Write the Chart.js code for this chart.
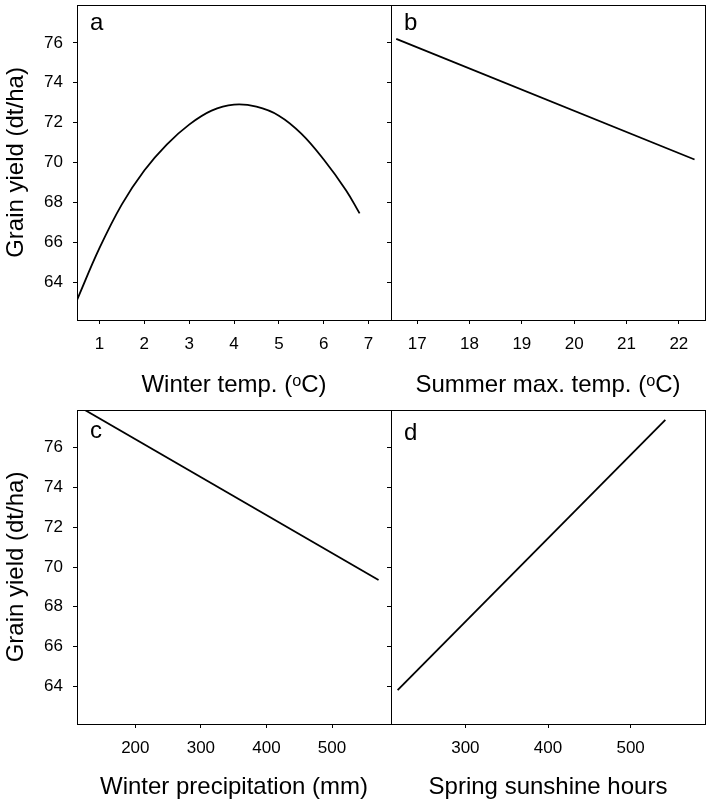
<!DOCTYPE html>
<html>
<head>
<meta charset="utf-8">
<script src="https://cdn.jsdelivr.net/npm/chart.js@4"></script>
<style>
  html, body { margin: 0; padding: 0; background: #fff; overflow: hidden; }
  #wrap { position: relative; width: 706px; height: 802px; }
  #wrap canvas { position: absolute; left: 0; top: 0; }
</style>
</head>
<body>
<div id="wrap">
  <canvas id="pa" width="706" height="802"></canvas>
  <canvas id="pb" width="706" height="802"></canvas>
  <canvas id="pc" width="706" height="802"></canvas>
  <canvas id="pd" width="706" height="802"></canvas>
</div>
<script>
// shared y axis (grain yield, dt/ha)
const yieldTicks = [64, 66, 68, 70, 72, 74, 76];
const yieldMin = 62.1, yieldMax = 77.9;

// a: winter temperature
const winterTemp = [0.5, 1, 1.5, 2, 2.5, 3, 3.5, 4, 4.5, 5, 5.5, 6, 6.5, 6.8];
const yieldWinterTemp = [63.1, 65.7, 67.9, 69.6, 70.9, 71.9, 72.6, 72.9, 72.8, 72.35, 71.45, 70.15, 68.6, 67.45];
const winterTempTicks = [1, 2, 3, 4, 5, 6, 7];

// b: summer max temperature
const summerTemp = [16.6, 22.3];
const yieldSummerTemp = [76.2, 70.15];
const summerTempTicks = [17, 18, 19, 20, 21, 22];

// c: winter precipitation
const winterPrec = [123, 571];
const yieldWinterPrec = [77.9, 69.35];
const winterPrecTicks = [200, 300, 400, 500];

// d: spring sunshine
const springSun = [218, 542];
const yieldSpringSun = [63.8, 77.4];
const springSunTicks = [300, 400, 500];

const FONT = 'Arial, "Liberation Sans", Helvetica, sans-serif';

const framePlugin = {
  id: 'frame',
  afterDraw(chart, args, opts) {
    const { ctx, chartArea: a } = chart;
    const l = Math.floor(a.left), t = Math.floor(a.top), r = Math.floor(a.right), b = Math.floor(a.bottom);
    ctx.save();
    ctx.strokeStyle = '#000';
    ctx.lineWidth = 1;
    ctx.strokeRect(l + 0.5, t + 0.5, r - l, b - t);
    if (opts.text) {
      ctx.fillStyle = '#000';
      ctx.font = `24px ${FONT}`;
      ctx.textBaseline = 'alphabetic';
      ctx.fillText(opts.text, a.left + 13, a.top + opts.dy);
    }
    ctx.restore();
  },
};

// keep tick labels from pushing the plot area around
const noPad = s => { s.paddingTop = 0; s.paddingBottom = 0; s.paddingLeft = 0; s.paddingRight = 0; };

function panel(id, xs, ys, cfg) {
  const el = document.getElementById(id);
  return new Chart(el.getContext('2d'), {
    type: 'scatter',
    data: {
      datasets: [{
        data: xs.map((x, i) => ({ x, y: ys[i] })),
        showLine: true, borderColor: '#000', borderWidth: 1.8,
        pointRadius: 0, fill: false, tension: cfg.smooth ? 0.4 : 0,
      }],
    },
    options: {
      responsive: false, animation: false, events: [],
      layout: { padding: cfg.padding },
      plugins: { legend: { display: false }, tooltip: { enabled: false }, frame: { text: cfg.letter, dy: cfg.dy } },
      scales: {
        x: {
          type: 'linear', min: cfg.xMin, max: cfg.xMax,
          afterBuildTicks: s => { s.ticks = cfg.xTicks.map(v => ({ value: v })); },
          afterFit: s => { s.height = cfg.xHeight; noPad(s); },
          border: { display: false },
          grid: { drawOnChartArea: false, drawTicks: true, tickLength: 4, tickColor: '#000', lineWidth: 1 },
          ticks: { color: '#000', font: { family: FONT, size: 17 }, padding: 10, maxRotation: 0 },
          title: { display: true, text: cfg.xTitle, color: '#000', font: { family: FONT, size: 24 }, padding: 0 },
        },
        y: {
          type: 'linear', min: yieldMin, max: yieldMax,
          afterBuildTicks: s => { s.ticks = yieldTicks.map(v => ({ value: v })); },
          afterFit: s => { s.width = cfg.yWidth; noPad(s); },
          border: { display: false },
          grid: { drawOnChartArea: false, drawTicks: true, tickLength: 4, tickColor: '#000', lineWidth: 1 },
          ticks: { display: cfg.yLabels, color: '#000', font: { family: FONT, size: 17 }, padding: 10 },
          title: { display: cfg.yLabels, text: 'Grain yield (dt/ha)', color: '#000', font: { family: FONT, size: 24 }, padding: { top: 2, bottom: 0 } },
        },
      },
    },
    plugins: [framePlugin],
  });
}

panel('pa', winterTemp, yieldWinterTemp, {
  letter: 'a', dy: 25, smooth: true,
  xMin: 0.5, xMax: 7.5, xTicks: winterTempTicks, xTitle: 'Winter temp. (ᵒC)',
  yLabels: true, yWidth: 77, xHeight: 80,
  padding: { left: 0, top: 5, right: 315, bottom: 402 },
});

panel('pb', summerTemp, yieldSummerTemp, {
  letter: 'b', dy: 25,
  xMin: 16.5, xMax: 22.5, xTicks: summerTempTicks, xTitle: 'Summer max. temp. (ᵒC)',
  yLabels: false, yWidth: 10, xHeight: 80,
  padding: { left: 381, top: 5, right: 1, bottom: 402 },
});

panel('pc', winterPrec, yieldWinterPrec, {
  letter: 'c', dy: 28,
  xMin: 111, xMax: 590, xTicks: winterPrecTicks, xTitle: 'Winter precipitation (mm)',
  yLabels: true, yWidth: 77, xHeight: 78,
  padding: { left: 0, top: 410, right: 315, bottom: 0 },
});

panel('pd', springSun, yieldSpringSun, {
  letter: 'd', dy: 30,
  xMin: 210, xMax: 590, xTicks: springSunTicks, xTitle: 'Spring sunshine hours',
  yLabels: false, yWidth: 10, xHeight: 78,
  padding: { left: 381, top: 410, right: 1, bottom: 0 },
});
</script>
</body>
</html>
